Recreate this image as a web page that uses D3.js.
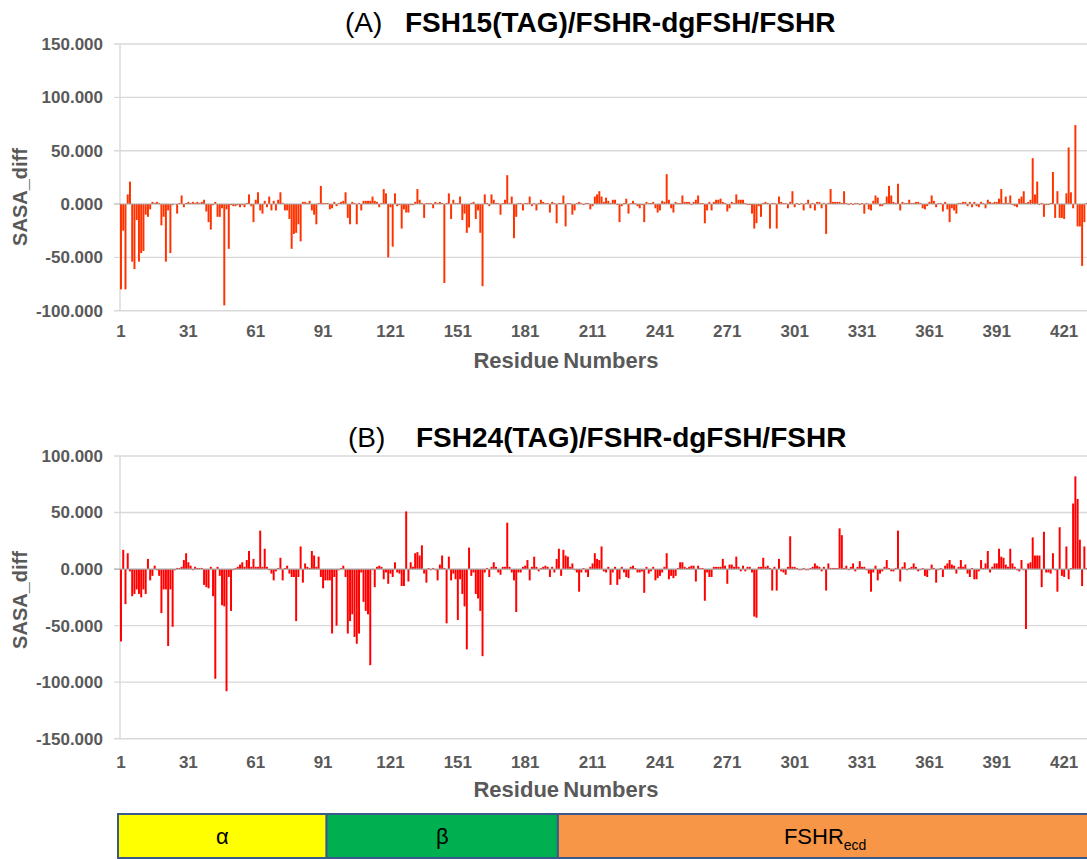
<!DOCTYPE html>
<html><head><meta charset="utf-8">
<script src="https://cdn.jsdelivr.net/npm/d3@7"></script>
<style>
body{margin:0;background:#fff;}
svg{display:block;font-family:"Liberation Sans",Arial,sans-serif;}
</style>
</head><body>
<svg id="c" width="1087" height="859"></svg>
<script>
// SASA_diff per residue, panel (A) FSH15(TAG)/FSHR-dgFSH/FSHR
const sasaA = [
-80,-25,-80,9,21,-54,-61,-15,-54,-46,
-44,-10,-12,-5,2,1,2,1,-20,-12,
-54,-6,-46,-1,0,-9,1,8,-3,1,
2,1,2,1,2,1,2,4,-7,-17,
-24,-1,2,-12,-12,-4,-95,-5,-42,-1,
-2,-2,-1,-3,-1,-3,1,9,-2,-17,
4,11,-6,-9,3,-3,7,-6,3,-6,
4,11,1,-6,-6,-14,-42,-28,-27,-19,
-35,2,2,1,3,-6,-10,-19,1,17,
1,1,1,-5,-4,2,-2,1,2,3,
11,-13,-19,2,1,-19,1,-6,3,3,
3,3,7,3,2,-3,1,14,10,-50,
-3,-40,10,-2,-1,-23,-5,-8,-8,-1,
-1,2,14,4,1,-13,1,1,1,-4,
2,1,2,1,-74,1,10,-14,4,1,
1,7,-15,-9,-27,-22,1,2,-14,-6,
-27,-77,9,1,-2,9,4,1,1,-10,
1,4,27,1,7,-32,-12,1,1,-6,
1,1,7,-2,1,-6,1,4,2,1,
1,-8,2,1,-18,1,1,8,-21,1,
1,-10,-6,1,2,1,-1,1,1,-5,
-2,7,9,12,7,2,6,3,1,4,
4,-1,-17,-2,1,5,-9,1,3,1,
-2,-4,-1,-17,2,1,1,2,-4,-8,
-6,3,2,28,4,-4,-8,2,1,1,
8,2,2,2,-1,2,4,8,1,1,
-18,-6,2,-6,2,4,4,5,2,1,
-7,-4,2,1,9,4,4,4,1,-1,
-1,-9,-23,-18,-2,-12,1,2,1,-23,
1,1,-23,7,2,1,1,-4,2,12,
-3,1,-1,1,-6,1,4,-4,1,-6,
2,2,-4,1,-28,1,14,2,2,2,
2,1,12,1,-1,1,-1,1,1,-1,
1,-9,1,-5,-6,3,8,6,-2,-2,
1,7,17,8,2,1,19,-6,2,1,
1,4,1,1,2,2,1,-4,-5,-2,
2,8,3,-3,1,1,-7,2,-5,-17,
-4,-6,-9,1,1,2,2,-2,2,-3,
2,-2,-3,2,1,-4,4,2,1,2,
2,5,14,1,7,1,8,-1,-2,-3,
5,7,12,1,2,4,43,9,21,-1,
1,-12,-1,-1,1,30,-13,12,-13,-13,
-14,10,53,11,-4,74,-21,-21,-58,-17,1
];
// SASA_diff per residue, panel (B) FSH24(TAG)/FSHR-dgFSH/FSHR
const sasaB = [
-64,17,-31,14,-2,-24,-22,-18,-22,-25,
-18,-22,9,-10,-6,3,-1,-6,-39,-18,
-18,-68,-18,-51,-1,1,1,2,8,14,
6,3,-1,2,1,1,1,-14,-16,-17,
2,-24,-97,2,-6,-32,-33,-108,-7,-37,
-1,1,2,4,6,2,8,16,2,9,
2,2,34,2,18,2,-1,-4,-10,-2,
1,10,-10,1,3,-4,-7,-7,-46,-7,
20,-12,5,2,1,16,12,2,11,-7,
-17,-10,-10,-10,-57,-7,-50,-1,1,3,
-7,-57,-46,-40,-60,-66,-57,-3,-29,-37,
-40,-85,-1,-16,2,3,2,-9,-3,-13,
-4,-7,6,-3,-4,-15,-15,51,-11,6,
2,14,15,12,21,-4,-12,1,-1,1,
-1,-10,4,12,1,-48,11,-10,-4,-9,
-45,-9,-22,-33,-71,19,-6,-3,-22,-26,
-37,-77,-3,1,-7,2,6,2,-3,-5,
2,2,41,2,-3,-10,-38,-3,-3,2,
3,8,-10,2,11,2,-2,1,2,3,
2,-7,2,-3,9,18,-6,17,12,11,
2,5,-1,-3,-20,-3,1,-3,-7,2,
5,14,9,8,20,-2,-3,2,-14,-3,
2,-14,-9,2,-3,-7,-8,2,3,1,
-3,-3,-2,-21,2,-4,-2,2,-10,-8,
-6,-3,2,14,-9,-6,-8,-6,1,6,
6,2,1,2,3,3,-11,3,1,1,
-28,-3,-7,-7,2,2,2,2,9,3,
-13,4,4,2,11,2,-2,3,-2,2,
2,-3,-42,-43,2,2,10,2,3,1,
-19,2,-19,9,-2,-3,-5,2,29,2,
2,1,-1,-1,1,-1,-1,1,2,5,
3,2,-2,2,-19,5,1,1,1,1,
36,30,1,3,-1,2,5,-2,2,7,
2,2,-1,-4,-20,-3,3,-10,-4,-2,
2,8,1,-2,-2,1,34,-11,2,6,
-1,1,2,5,2,-2,-1,1,-6,-7,
-1,4,1,-12,-1,1,-7,3,5,8,
4,3,-4,2,8,2,4,-4,-7,1,
-9,-9,-2,8,1,5,16,-3,2,5,
5,18,11,10,4,2,18,5,2,-1,
-2,8,-1,-53,5,6,28,12,12,12,
-16,33,-3,-3,-4,14,-1,-20,37,-6,
-7,20,-9,1,58,82,62,26,-15,20,1
];
const xTickLabels = [1,31,61,91,121,151,181,211,241,271,301,331,361,391,421];
const yTicksA = [150,100,50,0,-50,-100];
const yTicksB = [100,50,0,-50,-100,-150];
const titlesTag = ["(A)","(B)"];
const titles = ["FSH15(TAG)/FSHR-dgFSH/FSHR","FSH24(TAG)/FSHR-dgFSH/FSHR"];
const segNames = ["α","β","FSHR"];
const segStart = [1,93,196];
const segEnd = [92,195,433];
const segColors = ["#FFFF00","#00B050","#F79646"];

const svg = d3.select("#c");
const N = sasaA.length;
const residues = d3.range(1, N + 1);
const x = d3.scaleBand().domain(residues).range([120, 120 + N * 2.245]).paddingInner(0.12).paddingOuter(0);
const stepX = x.step();
// continuous position of residue boundaries (used for the domain strip, which runs past the last residue)
const xEdge = d3.scaleLinear().domain([0, N]).range([120, 120 + N * stepX]);
const grey = "#595959";

function panel(cfg) {
  const y = d3.scaleLinear().domain(cfg.domain).range(cfg.range);
  const g = svg.append("g");
  g.selectAll("line.grid").data(cfg.ticks.filter(d => d !== 0)).join("line")
    .attr("class", "grid")
    .attr("x1", 114).attr("x2", 1087)
    .attr("y1", d => y(d)).attr("y2", d => y(d))
    .attr("stroke", "#d9d9d9").attr("stroke-width", 1.4);
  g.append("line").attr("x1", 120).attr("x2", 120)
    .attr("y1", y(cfg.domain[1])).attr("y2", y(cfg.domain[0]))
    .attr("stroke", "#d9d9d9").attr("stroke-width", 1.4);
  g.selectAll("rect.bar").data(cfg.values).join("rect")
    .attr("class", "bar")
    .attr("x", (d, i) => x(i + 1))
    .attr("width", x.bandwidth())
    .attr("y", d => y(Math.max(0, d)))
    .attr("height", d => Math.abs(y(d) - y(0)))
    .attr("fill", cfg.color);
  g.append("line").attr("x1", 114).attr("x2", 1087)
    .attr("y1", y(0)).attr("y2", y(0))
    .attr("stroke", "#a6a6a6").attr("stroke-width", 1.2);
  const ya = g.append("g").attr("transform", "translate(120,0)")
    .call(d3.axisLeft(y).tickValues(cfg.ticks).tickFormat(d => d.toFixed(3)).tickSize(0).tickPadding(17));
  ya.select(".domain").remove();
  ya.selectAll("text").attr("font-size", 17).attr("font-weight", "bold")
    .attr("fill", grey).attr("font-family", "Liberation Sans, Arial, sans-serif");
  const xa = g.append("g").attr("transform", `translate(0,${y(cfg.domain[0])})`)
    .call(d3.axisBottom(x).tickValues(xTickLabels).tickSize(0).tickPadding(cfg.xPad));
  xa.select(".domain").remove();
  xa.selectAll("text").attr("font-size", 17).attr("font-weight", "bold")
    .attr("fill", grey).attr("font-family", "Liberation Sans, Arial, sans-serif");
  g.append("text").attr("x", 566).attr("y", cfg.xTitleY)
    .attr("text-anchor", "middle").attr("font-size", 22).attr("font-weight", "bold")
    .attr("word-spacing", -2).attr("fill", grey).text("Residue Numbers");
  g.append("text").attr("transform", `translate(27,${cfg.yTitleY}) rotate(-90)`)
    .attr("text-anchor", "middle").attr("font-size", 20).attr("font-weight", "bold")
    .attr("fill", grey).text("SASA_diff");
  g.append("text").attr("x", cfg.tagX).attr("y", cfg.titleY)
    .attr("font-size", 28).attr("fill", "#000").text(cfg.tag);
  g.append("text").attr("x", cfg.titleX).attr("y", cfg.titleY)
    .attr("font-size", 28).attr("font-weight", "bold").attr("fill", "#000").text(cfg.title);
}

panel({values: sasaA, domain: [-100, 150], range: [310.7, 44], ticks: yTicksA,
  color: "#FF3300", xPad: 14, xTitleY: 368, yTitleY: 197,
  tag: titlesTag[0], title: titles[0], tagX: 345, titleX: 405, titleY: 32});
panel({values: sasaB, domain: [-150, 100], range: [738.7, 456], ticks: yTicksB,
  color: "#FF0000", xPad: 17, xTitleY: 797, yTitleY: 600,
  tag: titlesTag[1], title: titles[1], tagX: 348, titleX: 416, titleY: 447});

// domain strip
const strip = svg.append("g");
const segs = segNames.map((n, i) => ({name: n, s: segStart[i], e: segEnd[i], c: segColors[i]}));
const segX0 = d => d.s === 1 ? 118 : xEdge(d.s - 1);
const segX1 = d => xEdge(d.e);
strip.selectAll("rect").data(segs).join("rect")
  .attr("x", segX0).attr("y", 814)
  .attr("width", d => segX1(d) - segX0(d)).attr("height", 44)
  .attr("fill", d => d.c).attr("stroke", "#3A5A8C").attr("stroke-width", 2);
const lab = strip.selectAll("text").data(segs).join("text")
  .attr("x", d => (segX0(d) + segX1(d)) / 2).attr("y", 844)
  .attr("text-anchor", "middle").attr("font-size", 22).attr("fill", "#000");
lab.append("tspan").text(d => d.name);
lab.filter(d => d.name === "FSHR").append("tspan")
  .attr("font-size", 14).attr("dy", 6).text("ecd");
</script>
</body></html>
